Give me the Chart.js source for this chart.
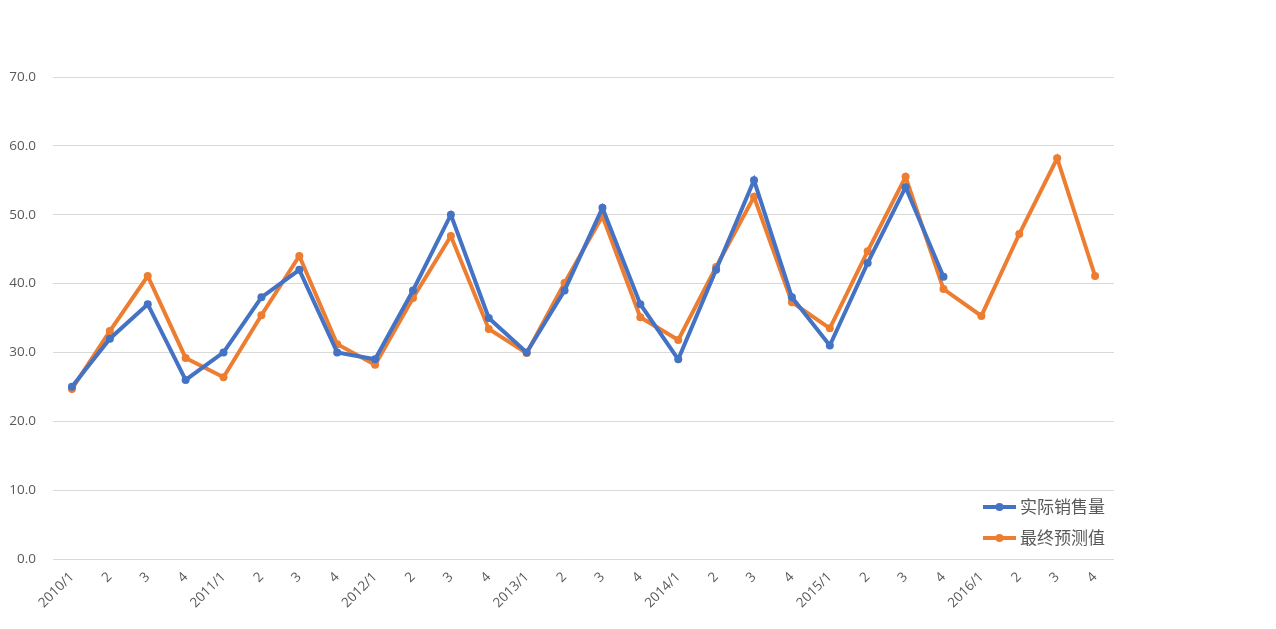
<!DOCTYPE html>
<html>
<head>
<meta charset="utf-8">
<script src="https://cdn.jsdelivr.net/npm/chart.js@4/dist/chart.umd.min.js"></script>
<style>
  html, body { margin: 0; padding: 0; background: #fff; }
  #wrap { width: 1276px; height: 629px; }
</style>
</head>
<body>
<div id="wrap"><canvas id="salesChart"></canvas></div>
<script>
const quarterLabels = [
  "2010/1", "2", "3", "4",
  "2011/1", "2", "3", "4",
  "2012/1", "2", "3", "4",
  "2013/1", "2", "3", "4",
  "2014/1", "2", "3", "4",
  "2015/1", "2", "3", "4",
  "2016/1", "2", "3", "4"
];

const actualSales = [
  25, 32, 37, 26,
  30, 38, 42, 30,
  29, 39, 50, 35,
  30, 39, 51, 37,
  29, 42, 55, 38,
  31, 43, 54, 41,
  null, null, null, null
];

const finalForecast = [
  24.7, 33.1, 41.1, 29.2,
  26.4, 35.4, 44.0, 31.2,
  28.2, 37.9, 46.9, 33.4,
  29.9, 40.1, 49.8, 35.1,
  31.8, 42.4, 52.6, 37.3,
  33.5, 44.7, 55.5, 39.2,
  35.3, 47.2, 58.2, 41.1
];

const BLUE = "#4472c4";
const ORANGE = "#ed7d31";
const TEXT_GREY = "#595959";
const FONT = "'Open Sans', 'Noto Sans CJK SC', sans-serif";

// legend drawn inside the plot, bottom-right like the original
const insideLegend = {
  id: "insideLegend",
  afterDraw(chart) {
    const ctx = chart.ctx;
    const rows = [
      { y: 507, ds: chart.data.datasets[0] },
      { y: 538, ds: chart.data.datasets[1] }
    ];
    ctx.save();
    rows.forEach((r) => {
      ctx.strokeStyle = r.ds.borderColor;
      ctx.lineWidth = 4;
      ctx.beginPath();
      ctx.moveTo(983, r.y);
      ctx.lineTo(1016, r.y);
      ctx.stroke();
      ctx.fillStyle = r.ds.borderColor;
      ctx.beginPath();
      ctx.arc(999.5, r.y, 4, 0, Math.PI * 2);
      ctx.fill();
      ctx.fillStyle = TEXT_GREY;
      ctx.font = "17px 'Noto Sans CJK SC', sans-serif";
      ctx.textBaseline = "middle";
      ctx.textAlign = "left";
      ctx.fillText(r.ds.label, 1020, r.y);
    });
    ctx.restore();
  }
};

const chart = new Chart(document.getElementById("salesChart"), {
  type: "line",
  data: {
    labels: quarterLabels,
    datasets: [
      {
        label: "实际销售量",
        data: actualSales,
        borderColor: BLUE,
        backgroundColor: BLUE,
        borderWidth: 4,
        pointRadius: 4,
        pointBorderWidth: 0,
        tension: 0,
        spanGaps: false
      },
      {
        label: "最终预测值",
        data: finalForecast,
        borderColor: ORANGE,
        backgroundColor: ORANGE,
        borderWidth: 4,
        pointRadius: 4,
        pointBorderWidth: 0,
        tension: 0
      }
    ]
  },
  options: {
    responsive: true,
    maintainAspectRatio: false,
    animation: false,
    layout: { padding: { top: 77, right: 162, left: 0, bottom: 0 } },
    plugins: {
      legend: { display: false },
      tooltip: { enabled: false }
    },
    scales: {
      x: {
        offset: true,
        grid: { display: false },
        border: { display: false },
        ticks: {
          color: TEXT_GREY,
          font: { family: FONT, size: 13.5 },
          minRotation: 45,
          maxRotation: 45,
          autoSkip: false,
          padding: 2
        },
        afterFit(scale) { scale.height = 70; }
      },
      y: {
        min: 0,
        max: 70,
        grid: { color: "#d9d9d9", lineWidth: 1, drawTicks: false },
        border: { display: false },
        ticks: {
          stepSize: 10,
          color: TEXT_GREY,
          font: { family: FONT, size: 13.5 },
          padding: 17,
          callback: (v) => v.toFixed(1)
        },
        afterFit(scale) { scale.width = 53; }
      }
    }
  },
  plugins: [insideLegend]
});
</script>
</body>
</html>
